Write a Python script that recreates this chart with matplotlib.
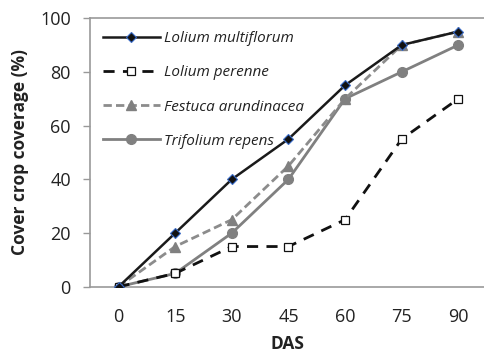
import matplotlib
matplotlib.use('Agg')
import matplotlib.pyplot as plt

plt.rcParams['font.family'] = ['Open Sans', 'DejaVu Sans']

# ── data ──────────────────────────────────────────────
das = ['0', '15', '30', '45', '60', '75', '90']
lolium_multiflorum = [0, 20, 40, 55, 75, 90, 95]
lolium_perenne = [0, 5, 15, 15, 25, 55, 70]
festuca_arundinacea = [0, 15, 25, 45, 70, 90, 95]
trifolium_repens = [0, 5, 20, 40, 70, 80, 90]

x = range(len(das))

fig = plt.figure(figsize=(4.85, 3.55), dpi=100)
ax = fig.add_axes([0.186, 0.192, 0.814, 0.757])

ax.plot(x, trifolium_repens, color='#808080', lw=2.0, marker='o', ms=7,
        mfc='#808080', mec='#808080', label='Trifolium repens', zorder=2)
ax.plot(x, festuca_arundinacea, color='#8c8c8c', lw=2.0, ls=(0, (3, 1.5)),
        marker='^', ms=7.5, mfc='#808080', mec='#808080',
        label='Festuca arundinacea', zorder=3)
ax.plot(x, lolium_perenne, color='#111111', lw=2.0, ls=(0, (4, 3)),
        marker='s', ms=6, mfc='white', mec='#111111', mew=0.9,
        label='Lolium perenne', zorder=4)
ax.plot(x, lolium_multiflorum, color='#1a1a1a', lw=1.8, marker='D', ms=5,
        mfc='#111111', mec='#3a6cc8', mew=0.8,
        label='Lolium multiflorum', zorder=5)

ax.set_xlim(-0.5, 6.47)
ax.set_ylim(0, 100)
ax.set_yticks([0, 20, 40, 60, 80, 100])
ax.set_xticks(list(x))
ax.set_xticklabels(das)
ax.tick_params(axis='x', length=0, pad=15, labelsize=13, colors='#222222')
ax.tick_params(axis='y', length=5, width=1, color='#999999', pad=9,
               labelsize=13, labelcolor='#222222', direction='out')

for s in ['left', 'top', 'bottom']:
    ax.spines[s].set_color('#999999')
    ax.spines[s].set_linewidth(1.2)
ax.spines['right'].set_visible(False)

ax.set_xlabel('DAS', fontsize=12.5, fontweight='bold', labelpad=7, color='#222222')
ax.set_ylabel('Cover crop coverage (%)', fontsize=12.5, fontweight='bold',
              labelpad=8, color='#222222')

handles, labels = ax.get_legend_handles_labels()
order = [3, 2, 1, 0]
leg = ax.legend([handles[i] for i in order], [labels[i] for i in order],
                loc='upper left', bbox_to_anchor=(0.0, 1.0), frameon=False,
                prop={'style': 'italic', 'size': 11}, handlelength=3.7,
                handletextpad=0.3, labelspacing=1.26, borderaxespad=0.45)
for t in leg.get_texts():
    t.set_color('#222222')

fig.savefig('out.png', dpi=100)
